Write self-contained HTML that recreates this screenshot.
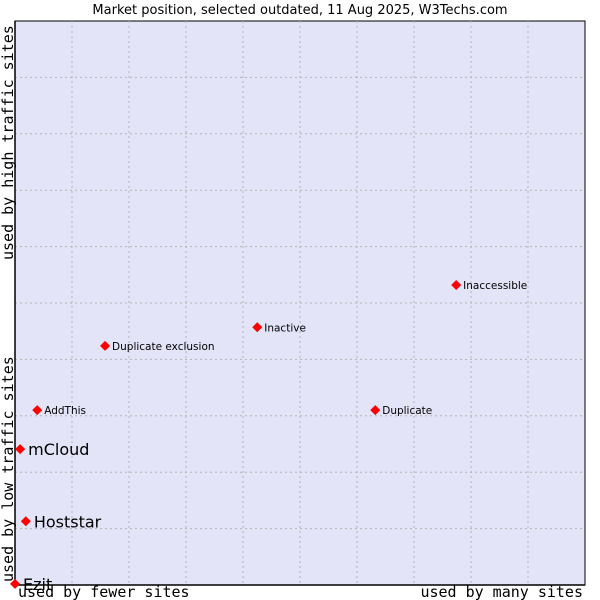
<!DOCTYPE html>
<html><head><meta charset="utf-8"><style>
body{margin:0;background:#fff}
svg{display:block}
.t{font-family:"DejaVu Sans","Liberation Sans",sans-serif}
.m{font-family:"DejaVu Sans Mono","Liberation Mono",monospace}
</style></head><body>
<svg id="chart" width="600" height="600">
<text class="t" x="300" y="14" font-size="13" text-anchor="middle">Market position, selected outdated, 11 Aug 2025, W3Techs.com</text>
<rect x="15" y="21" width="570" height="564" fill="#e3e4f8" stroke="#000" stroke-width="1"/>
<g id="grid"></g>
<line x1="15" y1="21" x2="15" y2="585" stroke="#000" stroke-width="1.5"/>
<line x1="15" y1="585" x2="585" y2="585" stroke="#000" stroke-width="1.5"/>
<g id="points"></g>
<text class="m" x="18" y="597" font-size="15">used by fewer sites</text>
<text class="m" x="583" y="597" font-size="15" text-anchor="end">used by many sites</text>
<text class="m" transform="translate(13,582) rotate(-90)" font-size="15">used by low traffic sites</text>
<text class="m" transform="translate(13,260) rotate(-90)" font-size="15">used by high traffic sites</text>
</svg>
<script>
const names=["Ezit","Hoststar","mCloud","AddThis","Duplicate exclusion","Inactive","Inaccessible","Duplicate"];
const xVals=[0,1.9,0.9,3.9,15.8,42.5,77.4,63.2];
const yVals=[0.2,11.3,24.1,31.0,42.4,45.7,53.2,31.0];
const bigLabel=[true,true,true,false,false,false,false,false];
const ns="http://www.w3.org/2000/svg";
const X0=15,X1=585,Y0=585,Y1=21;
const sx=v=>X0+v/100*(X1-X0);
const sy=v=>Y0-v/100*(Y0-Y1);
const grid=document.getElementById('grid');
for(let i=1;i<10;i++){
  const v=document.createElementNS(ns,'line');
  
  
  v.setAttribute('x1',sx(i*10));v.setAttribute('x2',sx(i*10));v.setAttribute('y1',Y1);v.setAttribute('y2',Y0);
  v.setAttribute('stroke','#b4b4b4');v.setAttribute('stroke-dasharray','2,3');grid.appendChild(v);
  const h=document.createElementNS(ns,'line');
  
  
  h.setAttribute('y1',sy(i*10));h.setAttribute('y2',sy(i*10));h.setAttribute('x1',X0);h.setAttribute('x2',X1);
  h.setAttribute('stroke','#b4b4b4');h.setAttribute('stroke-dasharray','2,3');grid.appendChild(h);
}
const pts=document.getElementById('points');
names.forEach((n,i)=>{
  const x=sx(xVals[i]),y=sy(yVals[i]);
  const g=document.createElementNS(ns,'g');
  
  
  const d=document.createElementNS(ns,'path');
  
  
  d.setAttribute('d',`M${x} ${y-5}L${x+5} ${y}L${x} ${y+5}L${x-5} ${y}Z`);
  d.setAttribute('fill','#f00');
  g.appendChild(d);
  const t=document.createElementNS(ns,'text');
  
  
  t.setAttribute('class','t');
  const big=bigLabel[i];
  t.setAttribute('x',x+(big?8:7));
  t.setAttribute('y',y+(big?6:4));
  t.setAttribute('font-size',big?16:10.5);
  t.textContent=n;
  g.appendChild(t);
  pts.appendChild(g);
});
</script>
</body></html>
